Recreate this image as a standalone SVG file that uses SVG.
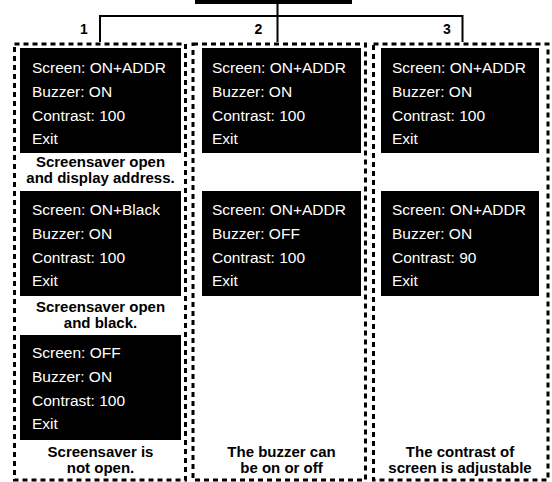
<svg xmlns="http://www.w3.org/2000/svg" width="552" height="482" viewBox="0 0 552 482">
<style>
.col{fill:none;stroke:#000;stroke-width:3;stroke-dasharray:5 4}
.scr{fill:#000}
.t{font-family:"Liberation Sans",Arial,sans-serif;font-size:15.5px;fill:#fff}
.c{font-family:"Liberation Sans",Arial,sans-serif;font-size:15px;font-weight:bold;fill:#000;text-anchor:middle}
.n{font-family:"Liberation Sans",Arial,sans-serif;font-size:14px;font-weight:bold;fill:#000;text-anchor:middle}
.ln{fill:none;stroke:#000;stroke-width:2}
</style>
<rect width="552" height="482" fill="#fff"/>
<g id="root"><rect x="195" y="0" width="157" height="4" fill="#000"/></g>
<g id="connectors">
<path class="ln" d="M277.5 4V42M100 42V16H462.5V42"/>
</g>
<g id="labels">
<text class="n" x="84" y="34">1</text>
<text class="n" x="258.5" y="34">2</text>
<text class="n" x="447" y="34">3</text>
</g>
<g id="col1">
<rect class="col" x="14.5" y="44" width="171" height="436"/>
<g id="c1r1"><rect class="scr" x="20" y="48" width="161" height="105"/>
<text class="t" x="32" y="73">Screen: ON+ADDR</text><text class="t" x="32" y="97">Buzzer: ON</text><text class="t" x="32" y="121">Contrast: 100</text><text class="t" x="32" y="144">Exit</text></g>
<text class="c" x="100.5" y="167">Screensaver open</text><text class="c" x="100.5" y="183">and display address.</text>
<g id="c1r2"><rect class="scr" x="20" y="191" width="161" height="105"/>
<text class="t" x="32" y="215">Screen: ON+Black</text><text class="t" x="32" y="239">Buzzer: ON</text><text class="t" x="32" y="263">Contrast: 100</text><text class="t" x="32" y="286">Exit</text></g>
<text class="c" x="100.5" y="312">Screensaver open</text><text class="c" x="100.5" y="328">and black.</text>
<g id="c1r3"><rect class="scr" x="20" y="335" width="161" height="105"/>
<text class="t" x="32" y="358">Screen: OFF</text><text class="t" x="32" y="382">Buzzer: ON</text><text class="t" x="32" y="406">Contrast: 100</text><text class="t" x="32" y="429">Exit</text></g>
<text class="c" x="100.5" y="457">Screensaver is</text><text class="c" x="100.5" y="473">not open.</text>
</g>
<g id="col2">
<rect class="col" x="193" y="44" width="172.5" height="436"/>
<g id="c2r1"><rect class="scr" x="202" y="48" width="159" height="105"/>
<text class="t" x="212" y="73">Screen: ON+ADDR</text><text class="t" x="212" y="97">Buzzer: ON</text><text class="t" x="212" y="121">Contrast: 100</text><text class="t" x="212" y="144">Exit</text></g>
<g id="c2r2"><rect class="scr" x="202" y="191" width="159" height="105"/>
<text class="t" x="212" y="215">Screen: ON+ADDR</text><text class="t" x="212" y="239">Buzzer: OFF</text><text class="t" x="212" y="263">Contrast: 100</text><text class="t" x="212" y="286">Exit</text></g>
<text class="c" x="281.5" y="457">The buzzer can</text><text class="c" x="281.5" y="473">be on or off</text>
</g>
<g id="col3">
<rect class="col" x="373.5" y="44" width="174.5" height="436"/>
<g id="c3r1"><rect class="scr" x="381" y="48" width="158" height="105"/>
<text class="t" x="392" y="73">Screen: ON+ADDR</text><text class="t" x="392" y="97">Buzzer: ON</text><text class="t" x="392" y="121">Contrast: 100</text><text class="t" x="392" y="144">Exit</text></g>
<g id="c3r2"><rect class="scr" x="381" y="191" width="158" height="105"/>
<text class="t" x="392" y="215">Screen: ON+ADDR</text><text class="t" x="392" y="239">Buzzer: ON</text><text class="t" x="392" y="263">Contrast: 90</text><text class="t" x="392" y="286">Exit</text></g>
<text class="c" x="460" y="457">The contrast of</text><text class="c" x="460" y="473">screen is adjustable</text>
</g>
</svg>
